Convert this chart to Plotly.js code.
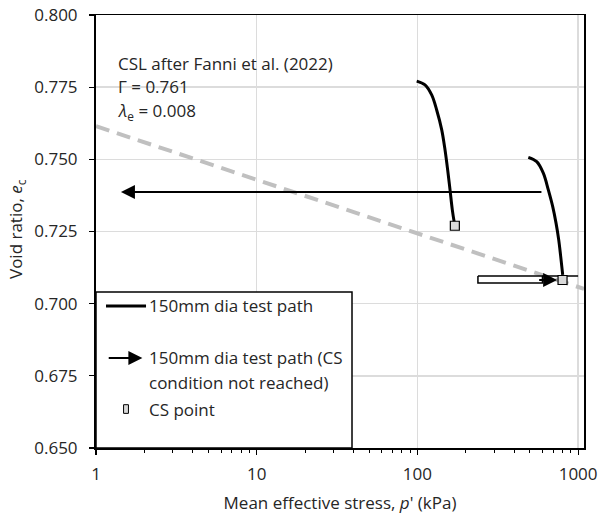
<!DOCTYPE html>
<html>
<head>
<meta charset="utf-8">
<script src="https://cdn.plot.ly/plotly-3.0.1.min.js"></script>
<style>html,body{margin:0;padding:0;background:#fff;}#chart{width:598px;height:520px;}</style>
</head>
<body>
<div id="chart"></div>
<script>
// ---- Data ----
// Critical state line (after Fanni et al. 2022)
const cslPressure = [1, 1088];
const cslVoidRatio = [0.7615, 0.7051];

// Test path 1 (150 mm dia)
const path1Pressure = [99.0, 111.5, 122.7, 131.8, 141.7, 148.5, 154.3, 159.6, 164.9, 169.7, 171];
const path1VoidRatio = [0.7771, 0.7758, 0.7723, 0.7671, 0.7602, 0.7533, 0.7463, 0.7394, 0.7325, 0.7280, 0.7270];

// Test path 2 (150 mm dia)
const path2Pressure = [490, 552.6, 607.5, 652.6, 695, 728.9, 757.4, 779.4, 802];
const path2VoidRatio = [0.7507, 0.7492, 0.7452, 0.7394, 0.7336, 0.7279, 0.7221, 0.7163, 0.7100];

// Critical state points
const csPressure = [171, 800];
const csVoidRatio = [0.7270, 0.7082];

// Test path with CS condition not reached (arrow to the left)
const arrowLeftFrom = [604, 0.7387];
const arrowLeftTo = [1.43, 0.7387];

// Hollow arrow towards the CS point
const hollowPressure = [238, 600, 600, 238, 238];
const hollowVoidRatio = [0.7096, 0.7096, 0.7072, 0.7072, 0.7096];
const hollowTopPressure = [600, 1000];
const hollowTopVoidRatio = [0.7096, 0.7096];
const arrowRightFrom = [560, 0.7082];
const arrowRightTo = [740, 0.7082];

// Axis ticks
const xTickVals = [1, 10, 100, 1000];
const xTickText = ['1', '10', '100', '1000'];
const xMinorVals = [2,3,4,5,6,7,8,9,20,30,40,50,60,70,80,90,200,300,400,500,600,700,800,900];

const FONT = '"Open Sans", Lato, sans-serif';
const TXT = '#262626';
const FS = 17;
const lg = Math.log10;
const X_RANGE = [0, lg(1088)];
const Y_RANGE = [0.650, 0.800];

const traces = [
  {x: cslPressure, y: cslVoidRatio, mode: 'lines', line: {color: '#c0c0c0', width: 4, dash: '14px,8px'}, hoverinfo: 'skip'},
  {x: hollowPressure, y: hollowVoidRatio, mode: 'lines', fill: 'toself', fillcolor: '#ffffff', line: {color: '#000', width: 1.5}, hoverinfo: 'skip'},
  {x: hollowTopPressure, y: hollowTopVoidRatio, mode: 'lines', line: {color: '#000', width: 1.5}, hoverinfo: 'skip'},
  {x: path1Pressure, y: path1VoidRatio, mode: 'lines', line: {color: '#000', width: 3, shape: 'spline'}},
  {x: path2Pressure, y: path2VoidRatio, mode: 'lines', line: {color: '#000', width: 3, shape: 'spline'}},
  {x: csPressure, y: csVoidRatio, mode: 'markers', marker: {symbol: 'square', size: 9, color: '#d9d9d9', line: {color: '#000', width: 1.2}}},
  // invisible trace tying the overlay axes used to draw the tick marks
  {x: [cslPressure[0]], y: [cslVoidRatio[0]], xaxis: 'x2', yaxis: 'y2', mode: 'markers', marker: {opacity: 0}, hoverinfo: 'skip'}
];

function note(x, y, text) {
  return {xref: 'paper', yref: 'paper', x: x, y: y, xanchor: 'left', yanchor: 'middle', showarrow: false, align: 'left',
          text: text, font: {family: FONT, size: FS, color: TXT}};
}

const annotations = [
  {x: lg(arrowLeftTo[0]), y: arrowLeftTo[1], ax: lg(arrowLeftFrom[0]), ay: arrowLeftFrom[1], xref: 'x', yref: 'y', axref: 'x', ayref: 'y',
   showarrow: true, arrowhead: 2, arrowsize: 1.4, arrowwidth: 2, arrowcolor: '#000', text: ''},
  {x: lg(arrowRightTo[0]), y: arrowRightTo[1], ax: lg(arrowRightFrom[0]), ay: arrowRightFrom[1], xref: 'x', yref: 'y', axref: 'x', ayref: 'y',
   showarrow: true, arrowhead: 2, arrowsize: 1.4, arrowwidth: 2, arrowcolor: '#000', text: ''},
  note(0.041, 0.889, 'CSL after Fanni et al. (2022)'),
  note(0.041, 0.834, 'Γ = 0.761'),
  note(0.041, 0.776, '<i>λ</i><sub>e</sub> = 0.008'),
  // legend
  note(0.1045, 0.328, '150mm dia test path'),
  note(0.1045, 0.208, '150mm dia test path (CS'),
  note(0.1045, 0.152, 'condition not reached)'),
  note(0.1045, 0.090, 'CS point'),
  {xref: 'paper', yref: 'paper', x: 0.095, y: 0.208, ax: 0.023, ay: 0.208, axref: 'paper', ayref: 'paper',
   showarrow: true, arrowhead: 2, arrowsize: 1.4, arrowwidth: 2, arrowcolor: '#000', text: ''},
  // y-axis title
  {xref: 'paper', yref: 'paper', x: -0.1617, y: 0.506, xanchor: 'center', yanchor: 'middle', showarrow: false, textangle: -90,
   text: 'Void ratio, <i>e</i><sub>c</sub>', font: {family: FONT, size: FS, color: TXT}}
];

const shapes = [
  {type: 'rect', xref: 'paper', yref: 'paper', x0: 0, x1: 0.5246, y0: 0, y1: 0.3603, fillcolor: '#fff', line: {color: '#000', width: 1.5}, layer: 'above'},
  {type: 'line', xref: 'paper', yref: 'paper', x0: 0.0205, x1: 0.1025, y0: 0.328, y1: 0.328, line: {color: '#000', width: 3}, layer: 'above'},
  {type: 'rect', xref: 'paper', yref: 'paper', x0: 0.0565, x1: 0.0665, y0: 0.080, y1: 0.100, fillcolor: '#d9d9d9', line: {color: '#000', width: 1}, layer: 'above'}
];

const layout = {
  width: 598, height: 520,
  margin: {l: 96, r: 14, t: 15, b: 72},
  paper_bgcolor: '#fff', plot_bgcolor: '#fff',
  showlegend: false,
  font: {family: FONT, size: FS, color: TXT},
  xaxis: {
    type: 'log', range: X_RANGE,
    tickvals: xTickVals, ticktext: xTickText,
    ticks: 'outside', ticklen: 10, tickcolor: 'rgba(0,0,0,0)',
    showgrid: true, gridcolor: '#dcdcdc', gridwidth: 1.5,
    showline: true, linecolor: '#000', linewidth: 1.5, mirror: true,
    zeroline: false,
    tickfont: {family: FONT, size: FS, color: TXT},
    title: {text: "Mean effective stress, <i>p</i>' (kPa)", font: {family: FONT, size: FS, color: TXT}, standoff: 13}
  },
  yaxis: {
    range: Y_RANGE, dtick: 0.025, tick0: 0.65, tickformat: '.3f',
    ticks: 'outside', ticklen: 13, tickcolor: 'rgba(0,0,0,0)',
    showgrid: true, gridcolor: '#dcdcdc', gridwidth: 1.5,
    showline: true, linecolor: '#000', linewidth: 2, mirror: true,
    zeroline: false,
    tickfont: {family: FONT, size: FS, color: TXT}
  },
  xaxis2: {
    type: 'log', range: X_RANGE, overlaying: 'x', anchor: 'y2', side: 'bottom',
    tickvals: xTickVals, showticklabels: false,
    ticks: 'outside', ticklen: 6, tickwidth: 1.2, tickcolor: '#000',
    minor: {tickvals: xMinorVals, ticks: 'outside', ticklen: 4, tickwidth: 1, tickcolor: '#000', showgrid: false},
    showgrid: false, showline: false, zeroline: false
  },
  yaxis2: {
    range: Y_RANGE, overlaying: 'y', anchor: 'x2', side: 'left',
    dtick: 0.025, tick0: 0.65, showticklabels: false,
    ticks: 'outside', ticklen: 6, tickwidth: 1.2, tickcolor: '#000',
    showgrid: false, showline: false, zeroline: false
  },
  annotations: annotations,
  shapes: shapes
};

Plotly.newPlot('chart', traces, layout, {staticPlot: true, displayModeBar: false});
</script>
</body>
</html>
